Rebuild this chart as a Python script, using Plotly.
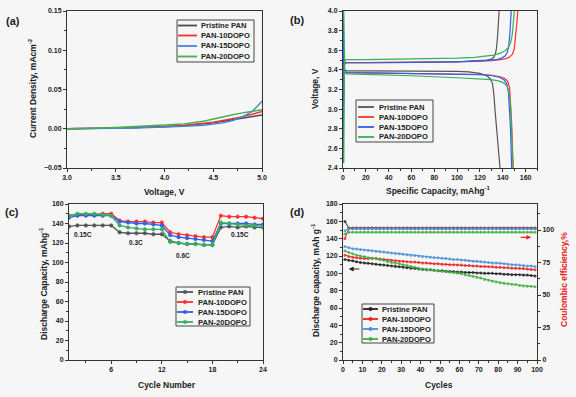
import plotly.graph_objects as go

# ---------------- DATA ----------------
names = ["Pristine PAN", "PAN-10DOPO", "PAN-15DOPO", "PAN-20DOPO"]
colors = ["#4a4a4a", "#f03030", "#3f86dc", "#45b04f"]
colors_b = ["#555555", "#ff3030", "#2f5fe6", "#33b060"]
colors_d = ["#222222", "#f02020", "#4a90d9", "#40b040"]

# (a) LSV
volt_a = [3.0, 3.1, 3.3, 3.5, 3.7, 3.9, 4.0, 4.2, 4.4, 4.5, 4.6, 4.7, 4.8, 4.9, 5.0]
cur_black = [0, 0, 0.0004, 0.0009, 0.0014, 0.002, 0.0025, 0.004, 0.006, 0.0075, 0.0095, 0.0115, 0.0135, 0.0155, 0.0175]
cur_red = [0, 0, 0.0005, 0.001, 0.0015, 0.0022, 0.0028, 0.0043, 0.0065, 0.0082, 0.0105, 0.0128, 0.0155, 0.0185, 0.022]
cur_blue = [0, 0, 0.0003, 0.0006, 0.001, 0.0016, 0.002, 0.003, 0.0045, 0.0057, 0.0075, 0.0105, 0.015, 0.022, 0.035]
cur_green = [0, 0, 0.0008, 0.0016, 0.0026, 0.0038, 0.0045, 0.006, 0.0095, 0.0125, 0.0152, 0.0178, 0.0202, 0.0225, 0.0242]
cur_all = [cur_black, cur_red, cur_blue, cur_green]

# (b) charge / discharge
chg_cap = [
    [0, 0.4, 0.8, 1.5, 3, 20, 40, 60, 80, 100, 110, 120, 126, 130, 132, 133.5, 134.5, 135.5, 136.2, 136.8],
    [0, 0.4, 0.8, 1.5, 3, 20, 40, 60, 80, 100, 120, 130, 138, 143, 146, 148.5, 150, 151.2, 152.2, 153.2],
    [0, 0.4, 0.8, 1.5, 3, 20, 40, 60, 80, 100, 120, 130, 135, 139, 142, 144, 145.2, 146.2, 146.8, 147.4],
    [0.7, 0.9, 1.2, 1.8, 3, 20, 40, 60, 80, 100, 115, 125, 132, 138, 142, 145, 147, 148.3, 149.2, 150.2],
]
chg_v = [
    [2.45, 3.2, 3.42, 3.465, 3.475, 3.475, 3.475, 3.477, 3.48, 3.483, 3.487, 3.493, 3.50, 3.51, 3.525, 3.56, 3.62, 3.75, 3.88, 4.0],
    [2.45, 3.2, 3.42, 3.465, 3.475, 3.475, 3.475, 3.477, 3.48, 3.483, 3.49, 3.495, 3.505, 3.515, 3.53, 3.56, 3.61, 3.72, 3.86, 4.0],
    [2.45, 3.2, 3.42, 3.465, 3.47, 3.47, 3.472, 3.475, 3.478, 3.482, 3.49, 3.497, 3.505, 3.52, 3.54, 3.58, 3.64, 3.76, 3.88, 4.0],
    [2.45, 3.2, 3.45, 3.5, 3.505, 3.505, 3.507, 3.51, 3.514, 3.52, 3.527, 3.537, 3.55, 3.57, 3.595, 3.63, 3.68, 3.76, 3.87, 4.0],
]
dis_cap = [
    [0, 0.3, 0.7, 1.5, 3, 20, 60, 100, 110, 120, 126, 129, 131, 132.2, 133.5, 134.8, 136, 137.6],
    [0, 0.3, 0.7, 1.5, 3, 20, 60, 100, 120, 130, 138, 142, 144.5, 146, 147, 147.8, 148.5, 149.2],
    [0, 0.3, 0.7, 1.5, 3, 20, 60, 100, 120, 130, 137, 141, 143.5, 145, 146, 146.8, 147.3, 147.8],
    [0.7, 0.8, 1.0, 1.5, 3, 20, 60, 100, 120, 130, 137, 141, 144, 145.8, 147, 147.8, 148.4, 149.0],
]
dis_v = [
    [4.0, 3.7, 3.45, 3.4, 3.39, 3.39, 3.39, 3.385, 3.38, 3.365, 3.34, 3.31, 3.26, 3.15, 2.95, 2.75, 2.6, 2.4],
    [4.0, 3.7, 3.42, 3.38, 3.372, 3.37, 3.365, 3.36, 3.353, 3.345, 3.33, 3.31, 3.28, 3.22, 3.05, 2.85, 2.6, 2.4],
    [4.0, 3.7, 3.42, 3.38, 3.372, 3.37, 3.365, 3.36, 3.352, 3.343, 3.325, 3.3, 3.26, 3.17, 3.0, 2.8, 2.6, 2.4],
    [4.0, 3.7, 3.42, 3.37, 3.36, 3.355, 3.34, 3.32, 3.31, 3.3, 3.285, 3.265, 3.23, 3.15, 3.0, 2.8, 2.6, 2.4],
]

# (c) rate capability
cycles_c = list(range(1, 25))
rate_black = [137, 138, 138, 138, 138, 138, 131, 130, 130, 130, 129, 129, 122, 120, 119, 119, 118, 118, 136, 137, 136, 137, 136, 136]
rate_red = [148, 149, 149, 149, 150, 150, 143, 142, 142, 142, 141, 141, 131, 129, 128, 127, 126, 126, 148, 147, 147, 147, 146, 145]
rate_blue = [146, 148, 148, 148, 148, 148, 142, 141, 140, 140, 139, 138, 128, 126, 125, 124, 123, 122, 140, 140, 140, 140, 139, 139]
rate_green = [148, 150, 150, 150, 149, 148, 138, 136, 135, 134, 134, 134, 121, 120, 119, 119, 118, 118, 141, 140, 139, 138, 138, 137]
rate_all = [rate_black, rate_red, rate_blue, rate_green]
rate_labels = ["0.15C", "0.3C", "0.6C", "0.15C"]
rate_label_x = [2.7, 9.0, 14.5, 21.3]
rate_label_y = [129, 121, 107, 129]

# (d) cycling
cycles_d = list(range(1, 100, 2))
cap_black = [116, 115, 114.5, 113.5, 112.5, 112, 111.5, 111, 110.5, 110, 109.5, 109, 108.5, 108, 107.5, 107, 106.5, 106, 105.5, 105,
             104.5, 104, 104, 103.5, 103, 103, 102.5, 102, 102, 101.5, 101.5, 101, 101, 101, 100.5, 100.5, 100, 100, 100, 99.5,
             99.5, 99, 99, 98.5, 98.5, 98.5, 98, 98, 97.5, 97]
cap_red = [121, 119.5, 118.5, 118, 117.5, 117, 117, 117.5, 117, 116.5, 116, 115.5, 115, 114.5, 114, 114, 113.5, 113, 113, 112.5,
           112, 112, 111.5, 111, 111, 110.5, 110.5, 110, 110, 109.5, 109.5, 109, 109, 108.5, 108.5, 108, 108, 107.5, 107.5, 107,
           107, 106.5, 106.5, 106, 106, 105.5, 105.5, 105, 104.5, 104]
cap_blue = [131, 129.5, 128.5, 128, 127.5, 127, 126.5, 126, 125.5, 125, 124.5, 124, 123.5, 123, 122.5, 122, 121.5, 121, 120.5, 120,
            119.5, 119, 118.5, 118, 118, 117.5, 117, 116.5, 116, 116, 115.5, 115, 114.5, 114, 114, 113.5, 113, 112.5, 112, 112,
            111.5, 111, 110.5, 110, 110, 109.5, 109, 108.5, 108.5, 108]
cap_green = [126, 124, 122.5, 121, 120, 119, 118, 117.5, 117, 116, 115, 113.5, 112.5, 111.5, 111, 110, 109, 108, 107, 106,
             105, 104.5, 104, 103.5, 103, 102.5, 102, 101.5, 101, 100.5, 99.5, 98.5, 97.5, 96.5, 95.5, 94.5, 93, 92, 91, 90,
             89, 88.5, 88, 87.5, 87, 86, 85.5, 85, 85, 84.5]
cap_all = [cap_black, cap_red, cap_blue, cap_green]
ce_black = [106.5, 101.5, 101.5, 101.5, 101.5, 101.5, 101.5, 101.5, 101.5, 101.5, 101.5, 101.5, 101.5, 101.5, 101.5, 101.5, 101.5, 101.5, 101.5, 101.5,
            101.5, 101.5, 101.5, 101.5, 101.5, 101.5, 101.5, 101.5, 101.5, 101.5, 101.5, 101.5, 101.5, 101.5, 101.5, 101.5, 101.5, 101.5, 101.5, 101.5,
            101.5, 101.5, 101.5, 101.5, 101.5, 101.5, 101.5, 101.5, 101.5, 101.5]
ce_red = [93.5, 101.2, 101.2, 101.2, 101.2, 101.2, 101.2, 101.6, 101.2, 101.2, 101.2, 101.2, 101.2, 101.2, 101.2, 101.2, 101.2, 101.2, 101.2, 101.2,
          101.2, 101.2, 101.2, 101.2, 101.2, 101.2, 101.2, 101.2, 101.2, 101.2, 101.2, 101.2, 101.2, 101.2, 101.2, 101.2, 101.2, 101.2, 101.2, 101.2,
          101.2, 101.2, 101.2, 101.2, 101.2, 101.2, 101.2, 101.2, 101.2, 101.2]
ce_blue = [99.5, 101.0, 101.0, 101.0, 101.0, 101.0, 101.0, 101.0, 101.0, 101.0, 101.0, 101.0, 101.0, 101.0, 101.0, 101.0, 101.0, 101.0, 101.0, 101.0,
           101.0, 101.0, 101.0, 101.0, 101.0, 101.0, 101.0, 101.0, 101.0, 101.0, 101.0, 101.0, 101.0, 101.0, 101.0, 101.0, 101.0, 101.0, 101.0, 101.0,
           101.0, 101.0, 101.0, 101.0, 101.0, 101.0, 101.0, 101.0, 101.0, 101.0]
ce_green = [97.0, 98.3, 98.3, 98.3, 98.3, 98.3, 98.3, 98.3, 98.3, 98.3, 98.3, 98.3, 98.3, 98.3, 98.3, 98.3, 98.3, 98.3, 98.3, 98.3,
            98.3, 98.3, 98.3, 98.3, 98.3, 98.3, 98.3, 98.3, 98.3, 98.3, 98.3, 98.3, 98.3, 98.3, 98.3, 98.3, 98.3, 98.3, 98.3, 98.3,
            98.3, 98.3, 98.3, 98.3, 98.3, 98.3, 98.3, 98.3, 98.3, 98.3]
ce_all = [ce_black, ce_red, ce_blue, ce_green]

# ---------------- FIGURE ----------------
W, H = 576, 397
FONT = "Arial, Liberation Sans, sans-serif"
BG = "#f6f6f6"
AX = "#333333"


def px(x):
    return x / W


def py(y):
    return 1 - y / H


fig = go.Figure()

# (a)
for i in range(4):
    fig.add_trace(go.Scatter(x=volt_a, y=cur_all[i], mode="lines", name=names[i],
                             line=dict(color=colors[i], width=1.4), xaxis="x", yaxis="y"))
# (b)
for i in range(4):
    fig.add_trace(go.Scatter(x=chg_cap[i], y=chg_v[i], mode="lines", name=names[i],
                             line=dict(color=colors_b[i], width=1.2), xaxis="x2", yaxis="y2"))
    fig.add_trace(go.Scatter(x=dis_cap[i], y=dis_v[i], mode="lines", name=names[i],
                             line=dict(color=colors_b[i], width=1.2), xaxis="x2", yaxis="y2"))
# (c)
for i in range(4):
    fig.add_trace(go.Scatter(x=cycles_c, y=rate_all[i], mode="lines+markers", name=names[i],
                             line=dict(color=colors_b[i], width=1.3),
                             marker=dict(size=3.5, color=colors_b[i], line=dict(width=0.6, color=colors_b[i])),
                             xaxis="x3", yaxis="y3"))
# (d)
for i in range(4):
    fig.add_trace(go.Scatter(x=cycles_d, y=cap_all[i], mode="lines+markers", name=names[i],
                             line=dict(color=colors_d[i], width=1.0),
                             marker=dict(size=3, color=colors_d[i], opacity=0.8),
                             xaxis="x4", yaxis="y4"))
for i in range(4):
    fig.add_trace(go.Scatter(x=cycles_d, y=ce_all[i], mode="lines+markers", name=names[i],
                             line=dict(color=colors_d[i], width=1.0),
                             marker=dict(size=3, color=colors_d[i], opacity=0.8),
                             xaxis="x4", yaxis="y5"))

tickfont = dict(family=FONT, size=7, color="#222", weight="bold")


def axis(domain, rng, dtick, minor_dtick, anchor, tick0=None, fmt=None, side=None, **kw):
    d = dict(domain=domain, range=rng, dtick=dtick, anchor=anchor, showline=True, linecolor=AX,
             linewidth=1, mirror=True, ticks="outside", ticklen=3, tickcolor=AX, tickwidth=1,
             tickfont=tickfont, showgrid=False, zeroline=False, automargin=False,
             minor=dict(dtick=minor_dtick, ticks="outside", ticklen=2, tickcolor=AX, showgrid=False))
    if tick0 is not None:
        d["tick0"] = tick0
    if fmt:
        d["tickformat"] = fmt
    if side:
        d["side"] = side
    d.update(kw)
    return d


ya_dom = [py(168), py(11)]
yc_dom = [py(360), py(204)]

fig.update_layout(
    width=W, height=H, margin=dict(l=0, r=0, t=0, b=0, autoexpand=False),
    paper_bgcolor=BG, plot_bgcolor=BG, showlegend=False,
    font=dict(family=FONT, size=8, color="#222"),
    xaxis=axis([px(67), px(262)], [3.0, 5.0], 0.5, 0.25, "y", fmt=".1f"),
    yaxis=axis(ya_dom, [-0.05, 0.15], 0.05, 0.025, "x", fmt=".2f"),
    xaxis2=axis([px(343), px(537)], [0, 170], 20, 10, "y2"),
    yaxis2=axis(ya_dom, [2.4, 4.0], 0.2, 0.1, "x2", fmt=".1f"),
    xaxis3=axis([px(69), px(263)], [1, 24], 6, 3, "y3", tick0=0),
    yaxis3=axis(yc_dom, [0, 160], 20, 10, "x3"),
    xaxis4=axis([px(343), px(537)], [0, 100], 10, 5, "y4", tick0=0),
    yaxis4=axis(yc_dom, [0, 180], 20, 10, "x4", mirror=False),
    yaxis5=axis(yc_dom, [0, 120], 25, 12.5, "x4", side="right", overlaying="y4", mirror=False),
)

ann = []
shapes = []
bold = lambda s, c="#222": dict(family=FONT, size=s, color=c, weight="bold")

# custom compact legends: (box x0, x1, y0, y1, rows y, line x0, x1, text x, marker?, palette)
legends = [
    (177, 254, 20, 62, [25.5, 35.5, 46, 56.5], 178, 197, 199, False, colors),
    (356, 433, 100, 142, [107, 117, 127, 137], 358, 374, 377, False, colors_b),
    (176, 250, 287, 326, [292, 302, 312, 322], 177, 193, 196, True, colors_b),
    (362, 434, 304, 343, [309, 319, 329, 339], 363, 378, 380, True, colors_d),
]
for bx0, bx1, by0, by1, rows, lx0, lx1, tx, mk, pal in legends:
    shapes.append(dict(type="rect", xref="paper", yref="paper", x0=px(bx0), x1=px(bx1),
                       y0=py(by1), y1=py(by0), line=dict(color="#444", width=1), fillcolor=BG))
    for i, ry in enumerate(rows):
        shapes.append(dict(type="line", xref="paper", yref="paper", x0=px(lx0), x1=px(lx1),
                           y0=py(ry), y1=py(ry), line=dict(color=pal[i], width=1.8)))
        if mk:
            shapes.append(dict(type="circle", xref="paper", yref="paper", xsizemode="pixel",
                               ysizemode="pixel", xanchor=px((lx0 + lx1) / 2), yanchor=py(ry),
                               x0=-1.8, x1=1.8, y0=-1.8, y1=1.8, fillcolor=pal[i],
                               line=dict(color=pal[i], width=0.5)))
        ann.append(dict(text=names[i], x=px(tx), y=py(ry), xref="paper", yref="paper",
                        xanchor="left", yanchor="middle", showarrow=False, font=bold(7.6)))

# panel labels
for lab, xx, yy in [("(a)", 4, 21), ("(b)", 288, 20), ("(c)", 3, 212), ("(d)", 288, 212)]:
    ann.append(dict(text=lab, x=px(xx), y=py(yy), xref="paper", yref="paper", xanchor="left",
                    yanchor="middle", showarrow=False, font=bold(11)))
# axis titles
titles = [
    ("Voltage, V", 164, 192, 0, "#222"),
    ("Current Density, mAcm<sup>-2</sup>", 32, 88, -90, "#222"),
    ("Specific Capacity, mAhg<sup>-1</sup>", 438, 191, 0, "#222"),
    ("Voltage, V", 315, 89, -90, "#222"),
    ("Cycle Number", 167, 385, 0, "#222"),
    ("Discharge Capacity, mAhg<sup>-1</sup>", 43, 284, -90, "#222"),
    ("Cycles", 439, 385, 0, "#222"),
    ("Discharge capacity, mAh g<sup>-1</sup>", 315, 280, -90, "#222"),
    ("Coulombic efficiency,%", 564, 280, -90, "#e82020"),
]
for t, xx, yy, ang, c in titles:
    ann.append(dict(text=t, x=px(xx), y=py(yy), xref="paper", yref="paper", xanchor="center",
                    yanchor="middle", showarrow=False, textangle=ang, font=bold(8.5, c)))
# rate labels
for t, xx, yy in zip(rate_labels, rate_label_x, rate_label_y):
    ann.append(dict(text=t, x=xx, y=yy, xref="x3", yref="y3", showarrow=False, font=bold(6.5)))
# arrows in (d)
ann.append(dict(x=3, y=105, xref="x4", yref="y4", ax=12, ay=0, axref="pixel", ayref="pixel",
                showarrow=True, arrowhead=2, arrowsize=0.8, arrowwidth=1.2, arrowcolor="#222", text=" ",
                font=dict(size=1)))
ann.append(dict(x=97, y=141.5, xref="x4", yref="y4", ax=-12, ay=0, axref="pixel", ayref="pixel",
                showarrow=True, arrowhead=2, arrowsize=0.8, arrowwidth=1.2, arrowcolor="#f02020", text=" ",
                font=dict(size=1)))
fig.update_layout(annotations=ann, shapes=shapes)

fig.write_html("out.html", config={"displayModeBar": False},
               post_script="document.body.style.margin='0';document.body.style.overflow='hidden';")
